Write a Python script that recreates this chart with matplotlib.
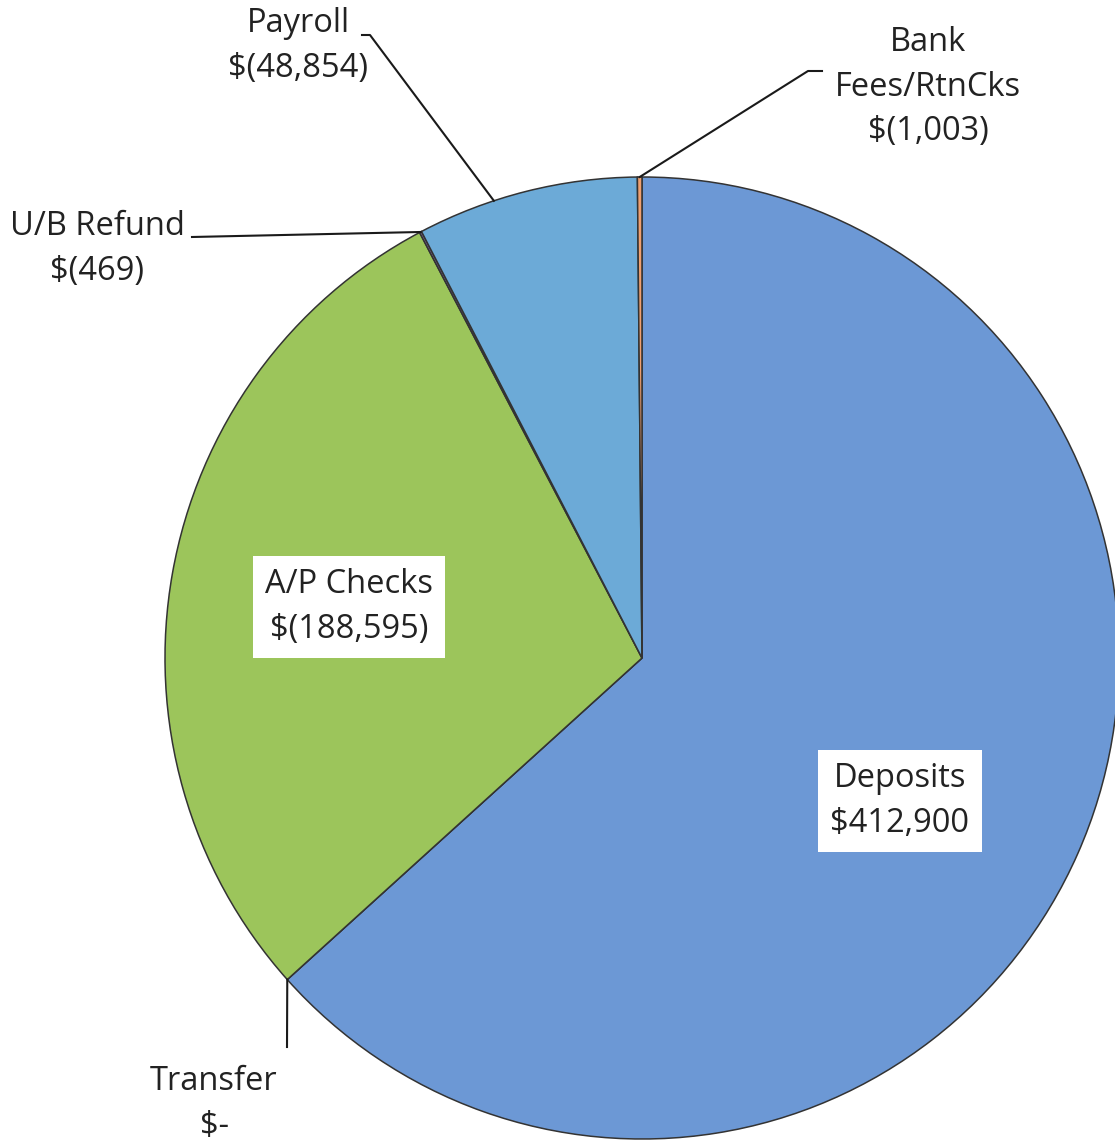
import numpy as np
import matplotlib.pyplot as plt

# slices in drawing order (clockwise from 12 o'clock)
categories = ["Deposits", "Transfer", "A/P Checks", "U/B Refund", "Payroll", "Bank\nFees/RtnCks"]
amounts = [412900, 0, 188595, 469, 48854, 1003]
value_labels = ["$412,900", "$-", "$(188,595)", "$(469)", "$(48,854)", "$(1,003)"]
colors = ["#6c98d5", "#c0504d", "#9cc55b", "#8064a2", "#6caad7", "#f0a070"]

W, H = 1115, 1148
CX, CY = 642, 658      # pie centre in pixels
RX, RY = 477, 481      # pixel radius (scan is slightly squashed)


def to_data(px, py):
    return (px - CX) / RX, (CY - py) / RY


def main():
    plt.rcParams['font.family'] = ['Open Sans', 'DejaVu Sans']
    fig = plt.figure(figsize=(W / 100, H / 100), dpi=100)
    ax = fig.add_axes([0, 0, 1, 1])

    wedges, _ = ax.pie(amounts, colors=colors, startangle=90, counterclock=False,
                       radius=1.0,
                       wedgeprops=dict(edgecolor="#333333", linewidth=1.1))
    ax.set_aspect('auto')
    ax.set_xlim(-CX / RX, (W - CX) / RX)
    ax.set_ylim(-(H - CY) / RY, CY / RY)
    ax.axis('off')

    text_kw = dict(fontsize=23.5, color="#222222", ha='center', va='center',
                   linespacing=1.47)

    # inside labels with white boxes
    for i, (px, py) in [(0, (900, 801)), (2, (349, 607))]:
        x, y = to_data(px, py)
        ax.text(x, y, categories[i] + "\n" + value_labels[i],
                bbox=dict(facecolor='white', edgecolor='none', pad=9), **text_kw)

    # outside labels: (index, text centre, elbow points, position in wedge)
    outside = [
        (1, (214, 1104), [(287, 1047)], 0.5),
        (3, (97, 249), [(192, 237)], 0.5),
        (4, (298, 46), [(362, 35), (370, 35)], 0.65),
        (5, (928, 87), [(822, 71), (808, 71)], 0.5),
    ]
    for i, (px, py), elbows, frac in outside:
        x, y = to_data(px, py)
        ax.text(x, y, categories[i] + "\n" + value_labels[i], **text_kw)
        w = wedges[i]
        ang = np.deg2rad(w.theta1 + frac * (w.theta2 - w.theta1))
        pts = [to_data(ex, ey) for ex, ey in elbows] + [(np.cos(ang), np.sin(ang))]
        pts = np.array(pts)
        ax.plot(pts[:, 0], pts[:, 1], color="#1a1a1a", linewidth=1.5)

    fig.savefig("out.png", dpi=100)


if __name__ == "__main__":
    main()
